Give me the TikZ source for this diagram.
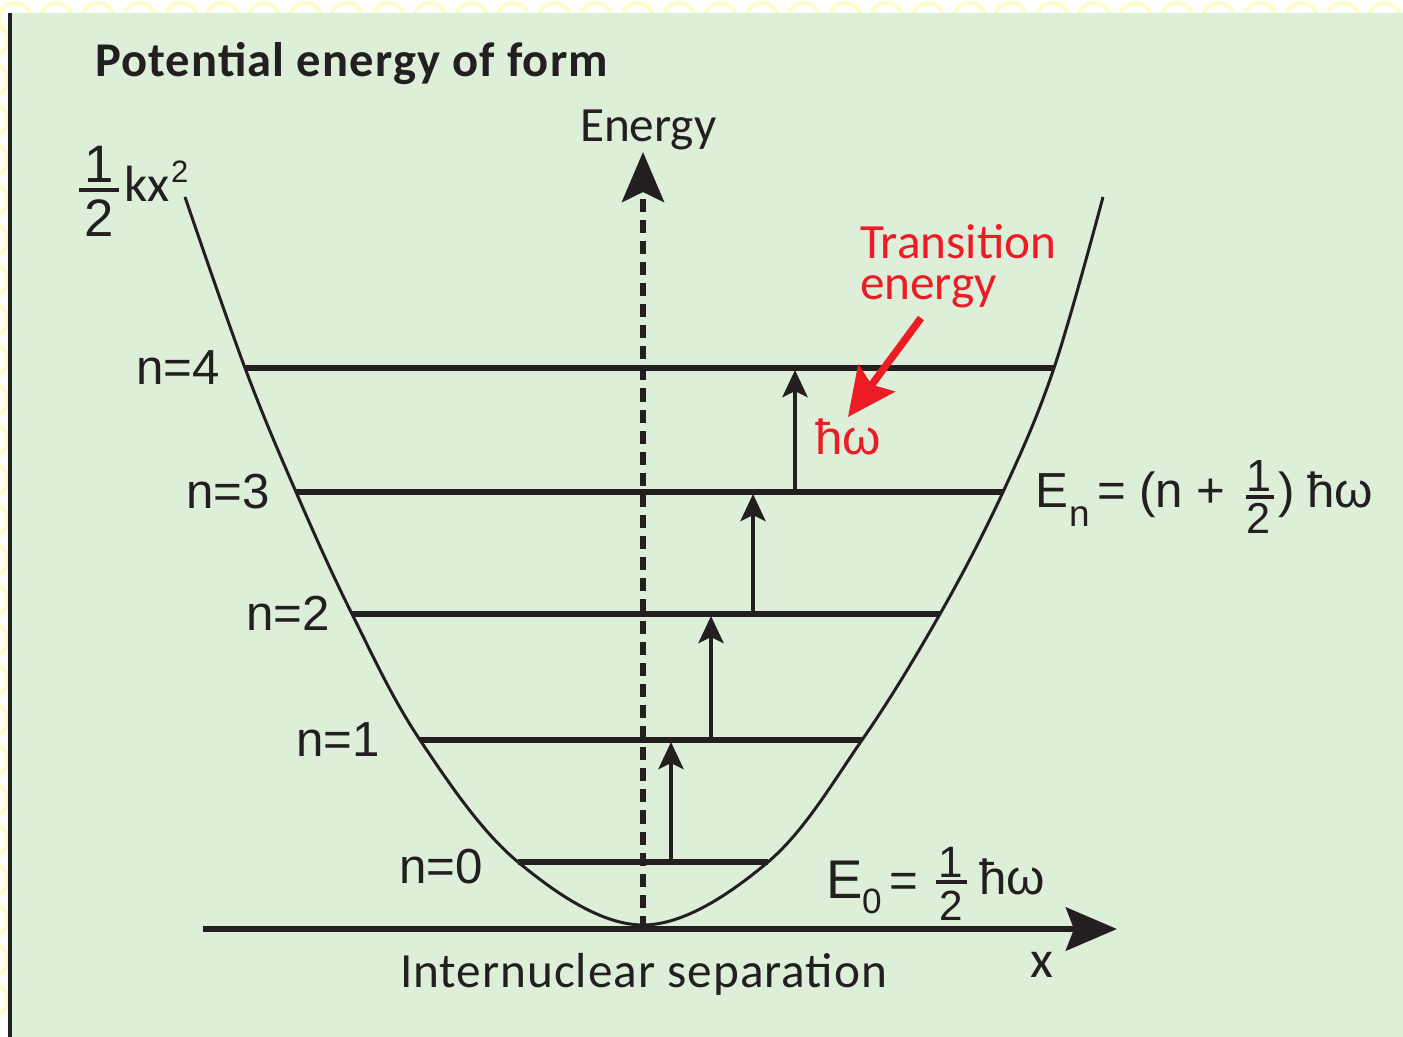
\documentclass[tikz,border=0pt]{standalone}
\usepackage{fontspec}
\usetikzlibrary{arrows.meta}
\newfontfamily\carl{Carlito}
\newfontfamily\lib{Liberation Sans}
\definecolor{bg}{RGB}{221,238,217}
\definecolor{ink}{RGB}{35,31,32}
\definecolor{redx}{RGB}{237,28,36}
\definecolor{scallop}{RGB}{255,252,200}
\begin{document}
\begin{tikzpicture}[x=0.01cm,y=-0.01cm,
  every node/.style={inner sep=0pt,outer sep=0pt,text=ink},
  txt/.style={anchor=base west},
  rtxt/.style={anchor=base east},
  ctxt/.style={anchor=base},
  level/.style={draw=ink,line width=1.45pt},
  curve/.style={draw=ink,line width=0.85pt},
  axis/.style={draw=ink,line width=1.75pt},
  jump/.style={draw=ink,line width=1.3pt,-{Stealth[length=0.27cm,width=0.25cm,inset=0.06cm]}},
  fbar/.style={draw=ink},
  lab/.style={font=\lib\fontsize{14}{16}\selectfont},
]
\useasboundingbox (0,0) rectangle (1403,1037);
\fill[white] (0,0) rectangle (1403,1037);
\foreach \i in {0,...,33} \draw[scallop,line width=1.1pt] (15+41.5*\i,19) circle (16);
\foreach \j in {1,...,25} \draw[scallop,line width=1.1pt] (-8,40*\j) circle (16);
\fill[bg] (11,13) rectangle (1403,1037);
\draw[ink,line width=0.9pt] (10,13) -- (10,1037);

% title
\node[txt,font=\carl\bfseries\fontsize{13.8}{16}\selectfont\addfontfeature{LetterSpace=2.4}] (title) at (95,77) {Potential energy of form};

% axes
\coordinate (xs) at (203,929);
\coordinate (xe) at (1117,929);
\coordinate (eb) at (643,929);
\coordinate (et) at (643,152);
\draw[axis,-{Stealth[length=0.51cm,width=0.43cm,inset=0.08cm]}] (xs) -- (xe);
\draw[axis,dash pattern=on 3.7pt off 2.3pt,-{Stealth[length=0.5cm,width=0.42cm,inset=0.1cm]}] (eb) -- (et);
\node[txt,font=\carl\fontsize{14}{16}\selectfont] (energy) at (580,142) {Energy};
\node[txt,font=\carl\fontsize{14}{16}\selectfont\addfontfeature{LetterSpace=2}] (sep) at (400,987) {Internuclear separation};
\node[txt,font=\carl\fontsize{15}{17}\selectfont] (xlab) at (1030,977) {x};

% level end points
\coordinate (L0a) at (518,862); \coordinate (L0b) at (768,862);
\coordinate (L1a) at (420,740); \coordinate (L1b) at (862,740);
\coordinate (L2a) at (352,614); \coordinate (L2b) at (940,614);
\coordinate (L3a) at (296,492); \coordinate (L3b) at (1003,492);
\coordinate (L4a) at (245,368); \coordinate (L4b) at (1054,368);
\coordinate (Ptl) at (185,197); \coordinate (Ptr) at (1103,197);
\coordinate (V) at (643,925);

% potential curve
\draw[curve] plot[smooth,tension=0.6] coordinates {(Ptl) (L4a) (L3a) (L2a) (L1a) (L0a) (V) (L0b) (L1b) (L2b) (L3b) (L4b) (Ptr)};

% levels
\draw[level] (L0a) -- (L0b);
\draw[level] (L1a) -- (L1b);
\draw[level] (L2a) -- (L2b);
\draw[level] (L3a) -- (L3b);
\draw[level] (L4a) -- (L4b);

% level labels
\node[rtxt,lab] (n0) at (483,883) {n=0};
\node[rtxt,lab] (n1) at (380,757) {n=1};
\node[rtxt,lab] (n2) at (330,631) {n=2};
\node[rtxt,lab] (n3) at (270,509) {n=3};
\node[rtxt,lab] (n4) at (220,385) {n=4};

% transitions
\coordinate (a0) at (671,862); \coordinate (a1) at (671,742);
\coordinate (b0) at (711,740); \coordinate (b1) at (711,616);
\coordinate (c0) at (753,614); \coordinate (c1) at (753,494);
\coordinate (d0) at (795,492); \coordinate (d1) at (795,370);
\draw[jump] (a0) -- (a1);
\draw[jump] (b0) -- (b1);
\draw[jump] (c0) -- (c1);
\draw[jump] (d0) -- (d1);

% red annotation
\node[txt,text=redx,align=left,font=\carl\fontsize{14}{11.9}\selectfont] (tr) at (860,300) {Transition\\energy};
\node[txt,text=redx,lab] (hw) at (815,455) {ħω};
\coordinate (rs) at (921,318);
\coordinate (rt) at (848,417);
\draw[redx,line width=2.1pt,-{Stealth[length=0.48cm,width=0.45cm,inset=0.08cm]}] (rs) -- (rt);

% 1/2 k x^2
\node[ctxt,font=\lib\fontsize{15}{17}\selectfont] (k1) at (99,183) {1};
\coordinate (kb1) at (79,190); \coordinate (kb2) at (119,190);
\draw[fbar,line width=1.4pt] (kb1) -- (kb2);
\node[ctxt,font=\lib\fontsize{15}{17}\selectfont] (k2) at (99,237) {2};
\node[txt,font=\carl\fontsize{14.5}{17}\selectfont] (kx) at (124,202) {kx};
\node[txt,font=\lib\fontsize{8.8}{10}\selectfont] (ksup) at (171,183) {2};

% E_n formula
\node[txt,lab] (En) at (1035,508) {E};
\node[txt,font=\lib\fontsize{10.5}{12}\selectfont] (Ensub) at (1069,527) {n};
\node[txt,lab] (Eneq) at (1097,508) {= (n +};
\node[ctxt,font=\lib\fontsize{12.8}{14}\selectfont] (Enf1) at (1259,492) {1};
\coordinate (eb1) at (1246,497); \coordinate (eb2) at (1274,497);
\draw[fbar,line width=1.3pt] (eb1) -- (eb2);
\node[ctxt,font=\lib\fontsize{12.3}{14}\selectfont] (Enf2) at (1259,534) {2};
\node[txt,lab] (Enp) at (1278,508) {)};
\node[txt,lab] (Enhw) at (1307,508) {ħω};

% E_0 formula
\node[txt,font=\lib\fontsize{15.5}{17}\selectfont] (E0) at (826,898) {E};
\node[txt,font=\lib\fontsize{10}{12}\selectfont] (E0sub) at (862,913) {0};
\node[txt,lab] (E0eq) at (889,897) {=};
\node[ctxt,font=\lib\fontsize{12.5}{14}\selectfont] (E0f1) at (951,877) {1};
\coordinate (fb1) at (936,882); \coordinate (fb2) at (967,882);
\draw[fbar,line width=1pt] (fb1) -- (fb2);
\node[ctxt,font=\lib\fontsize{12}{14}\selectfont] (E0f2) at (951,920) {2};
\node[txt,lab] (E0hw) at (979,894) {ħω};
\end{tikzpicture}
\end{document}
